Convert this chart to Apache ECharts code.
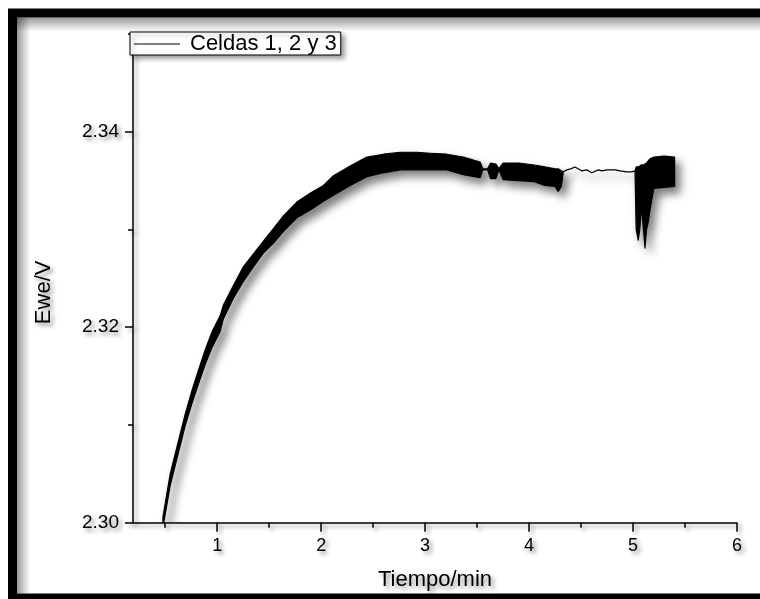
<!DOCTYPE html>
<html>
<head>
<meta charset="utf-8">
<script src="https://cdn.jsdelivr.net/npm/echarts@6/dist/echarts.min.js"></script>
<style>
  html, body { margin: 0; padding: 0; background: #fff; }
  #chart { width: 760px; height: 599px; }
</style>
</head>
<body>
<div id="chart"></div>
<script>
// Cell voltage record: time (min) with the lower / upper edge of the noisy trace (V)
const timeMin = [
  0.478, 0.548, 0.628, 0.692, 0.757, 0.820, 0.885, 0.949, 1.029, 1.061,
  1.157, 1.253, 1.349, 1.445, 1.541, 1.637, 1.766, 1.894, 2.022, 2.118,
  2.279, 2.439, 2.599, 2.760, 2.920, 3.048, 3.209, 3.368, 3.529, 3.555,
  3.600, 3.630, 3.680, 3.710, 3.750, 3.900, 4.050, 4.150, 4.250, 4.280,
  4.310, 4.330, 4.363, 4.400, 4.442, 4.458, 4.507, 4.555, 4.603, 4.667,
  4.700, 4.747, 4.790, 4.827, 4.875, 4.939, 4.988, 5.019, 5.030, 5.050,
  5.065, 5.080, 5.100, 5.115, 5.130, 5.145, 5.160, 5.200, 5.300, 5.400
];
const eweLow = [
  2.2995, 2.3038, 2.3072, 2.3099, 2.3122, 2.3142, 2.3162, 2.3179, 2.3196, 2.3209,
  2.3230, 2.3247, 2.3262, 2.3276, 2.3286, 2.3298, 2.3312, 2.3320, 2.3329, 2.3335,
  2.3345, 2.3354, 2.3358, 2.3361, 2.3361, 2.3361, 2.3361, 2.3356, 2.3353, 2.3361,
  2.3361, 2.3352, 2.3352, 2.3361, 2.3351, 2.3350, 2.3349, 2.3345, 2.3344, 2.3339,
  2.3344, 2.3359, 2.3361, 2.3362, 2.3364, 2.3363, 2.3360, 2.3361, 2.3358, 2.3361,
  2.3360, 2.3361, 2.3361, 2.3361, 2.3360, 2.3359, 2.3359, 2.3360, 2.3300, 2.3289,
  2.3300, 2.3323, 2.3300, 2.3281, 2.3300, 2.3307, 2.3318, 2.3342, 2.3343, 2.3344
];
const eweHigh = [
  2.3006, 2.3050, 2.3084, 2.3111, 2.3135, 2.3156, 2.3177, 2.3195, 2.3212, 2.3223,
  2.3243, 2.3262, 2.3275, 2.3288, 2.3301, 2.3314, 2.3328, 2.3337, 2.3345, 2.3355,
  2.3365, 2.3374, 2.3377, 2.3379, 2.3379, 2.3378, 2.3377, 2.3374, 2.3369, 2.3362,
  2.3362, 2.3368, 2.3367, 2.3362, 2.3368, 2.3368, 2.3366, 2.3364, 2.3362, 2.3362,
  2.3360, 2.3359, 2.3361, 2.3362, 2.3364, 2.3363, 2.3360, 2.3361, 2.3358, 2.3361,
  2.3360, 2.3361, 2.3361, 2.3361, 2.3360, 2.3359, 2.3359, 2.3360, 2.3364, 2.3364,
  2.3365, 2.3366, 2.3366, 2.3367, 2.3368, 2.3370, 2.3372, 2.3374, 2.3375, 2.3374
];

// Axis ticks
const xMajorTicks = [1, 2, 3, 4, 5, 6];
const xMinorTicks = [0.5, 1.5, 2.5, 3.5, 4.5, 5.5];
const yMajorTicks = [2.30, 2.32, 2.34];
const yMinorTicks = [2.31, 2.33, 2.35];

const seriesName = 'Celdas 1, 2 y 3';
const FONT = "'Liberation Sans', Arial, sans-serif";

const textShadow = {
  textShadowColor: 'rgba(0,0,0,0.45)',
  textShadowBlur: 4,
  textShadowOffsetX: 3,
  textShadowOffsetY: 3
};
const lineShadow = {
  shadowColor: 'rgba(0,0,0,0.4)',
  shadowBlur: 4,
  shadowOffsetX: 3,
  shadowOffsetY: 3
};

const chart = echarts.init(document.getElementById('chart'), null, { renderer: 'canvas' });

const xRange = { min: 0.19, max: 6 };
const yRange = { min: 2.30, max: 2.35 };

function xAxisMajor() {
  return Object.assign({
    type: 'value', gridIndex: 0, position: 'bottom',
    name: 'Tiempo/min', nameLocation: 'middle', nameGap: 46,
    nameTextStyle: Object.assign({ color: '#000', fontSize: 22, fontFamily: FONT }, textShadow),
    axisLine: { show: true, onZero: false, lineStyle: Object.assign({ color: '#000', width: 1.5 }, lineShadow) },
    axisTick: { show: true, inside: false, length: 9, customValues: xMajorTicks,
      lineStyle: Object.assign({ color: '#000', width: 1.5 }, lineShadow) },
    axisLabel: Object.assign({ show: true, customValues: xMajorTicks, margin: 14, color: '#000',
      fontSize: 18, fontFamily: FONT }, textShadow),
    splitLine: { show: false }
  }, xRange);
}
function xAxisMinor() {
  return Object.assign({
    type: 'value', gridIndex: 0, position: 'bottom',
    axisLine: { show: false, onZero: false },
    axisTick: { show: true, inside: false, length: 5, customValues: xMinorTicks,
      lineStyle: Object.assign({ color: '#000', width: 1.5 }, lineShadow) },
    axisLabel: { show: false },
    splitLine: { show: false }
  }, xRange);
}
function yAxisMajor() {
  return Object.assign({
    type: 'value', gridIndex: 0, position: 'left',
    name: 'Ewe/V', nameLocation: 'middle', nameGap: 78,
    nameTextStyle: Object.assign({ color: '#000', fontSize: 22, fontFamily: FONT,
      padding: [0, 28, 0, 0] }, textShadow),
    axisLine: { show: true, onZero: false, lineStyle: Object.assign({ color: '#000', width: 1.5 }, lineShadow) },
    axisTick: { show: true, inside: false, length: 8, customValues: yMajorTicks,
      lineStyle: Object.assign({ color: '#000', width: 1.5 }, lineShadow) },
    axisLabel: Object.assign({ show: true, customValues: yMajorTicks, margin: 14, color: '#000',
      fontSize: 19, fontFamily: FONT, formatter: v => v.toFixed(2) }, textShadow),
    splitLine: { show: false }
  }, yRange);
}
function yAxisMinor() {
  return Object.assign({
    type: 'value', gridIndex: 0, position: 'left',
    axisLine: { show: false, onZero: false },
    axisTick: { show: true, inside: false, length: 5, customValues: yMinorTicks,
      lineStyle: Object.assign({ color: '#000', width: 1.5 }, lineShadow) },
    axisLabel: { show: false },
    splitLine: { show: false }
  }, yRange);
}

// The trace is drawn as one filled outline: lower edge forward, upper edge back.
function renderTrace(params, api) {
  if (params.dataIndex !== 0) return null;
  const pts = [];
  for (let i = 0; i < timeMin.length; i++) pts.push(api.coord([timeMin[i], eweLow[i]]));
  for (let i = timeMin.length - 1; i >= 0; i--) pts.push(api.coord([timeMin[i], eweHigh[i]]));
  return {
    type: 'polygon',
    shape: { points: pts },
    style: {
      fill: '#000', stroke: '#000', lineWidth: 1.2, lineJoin: 'round',
      shadowColor: 'rgba(0,0,0,0.5)', shadowBlur: 8, shadowOffsetX: 5, shadowOffsetY: 6
    }
  };
}

const option = {
  backgroundColor: '#fff',
  animation: false,
  grid: { left: 133, right: 23, top: 34, bottom: 76.3, containLabel: false },
  xAxis: [xAxisMajor(), xAxisMinor()],
  yAxis: [yAxisMajor(), yAxisMinor()],
  legend: {
    left: 130, top: 32, orient: 'horizontal',
    data: [{ name: seriesName, icon: 'rect' }],
    itemWidth: 46, itemHeight: 1, itemGap: 0,
    padding: [1, 4, 0, 4],
    backgroundColor: '#fff', borderColor: '#000', borderWidth: 1, borderRadius: 0,
    shadowColor: 'rgba(0,0,0,0.4)', shadowBlur: 5, shadowOffsetX: 3, shadowOffsetY: 3,
    itemStyle: { color: '#000' },
    textStyle: { color: '#000', fontSize: 22, fontFamily: FONT, padding: [0, 0, 0, 5] },
    selectedMode: false,
    z: 10
  },
  graphic: [
    // outer frame
    { type: 'rect', z: 100, silent: true,
      shape: { x: 12.5, y: 13, width: 790, height: 585 },
      style: { fill: 'none', stroke: '#000', lineWidth: 9 } },
    // soft shading inside the frame (top and left)
    { type: 'rect', z: 99, silent: true,
      shape: { x: 17, y: 17.5, width: 760, height: 14 },
      style: { fill: new echarts.graphic.LinearGradient(0, 0, 0, 1, [
        { offset: 0, color: 'rgba(0,0,0,0.40)' }, { offset: 1, color: 'rgba(0,0,0,0)' }]) } },
    { type: 'rect', z: 99, silent: true,
      shape: { x: 17, y: 17.5, width: 13, height: 576 },
      style: { fill: new echarts.graphic.LinearGradient(0, 0, 1, 0, [
        { offset: 0, color: 'rgba(0,0,0,0.40)' }, { offset: 1, color: 'rgba(0,0,0,0)' }]) } }
  ],
  series: [{
    type: 'custom',
    name: seriesName,
    xAxisIndex: 0, yAxisIndex: 0,
    clip: true,
    silent: true,
    itemStyle: { color: '#000' },
    encode: { x: 0, y: [1, 2] },
    data: timeMin.map((t, i) => [t, eweLow[i], eweHigh[i]]),
    renderItem: renderTrace
  }]
};

chart.setOption(option);
</script>
</body>
</html>
